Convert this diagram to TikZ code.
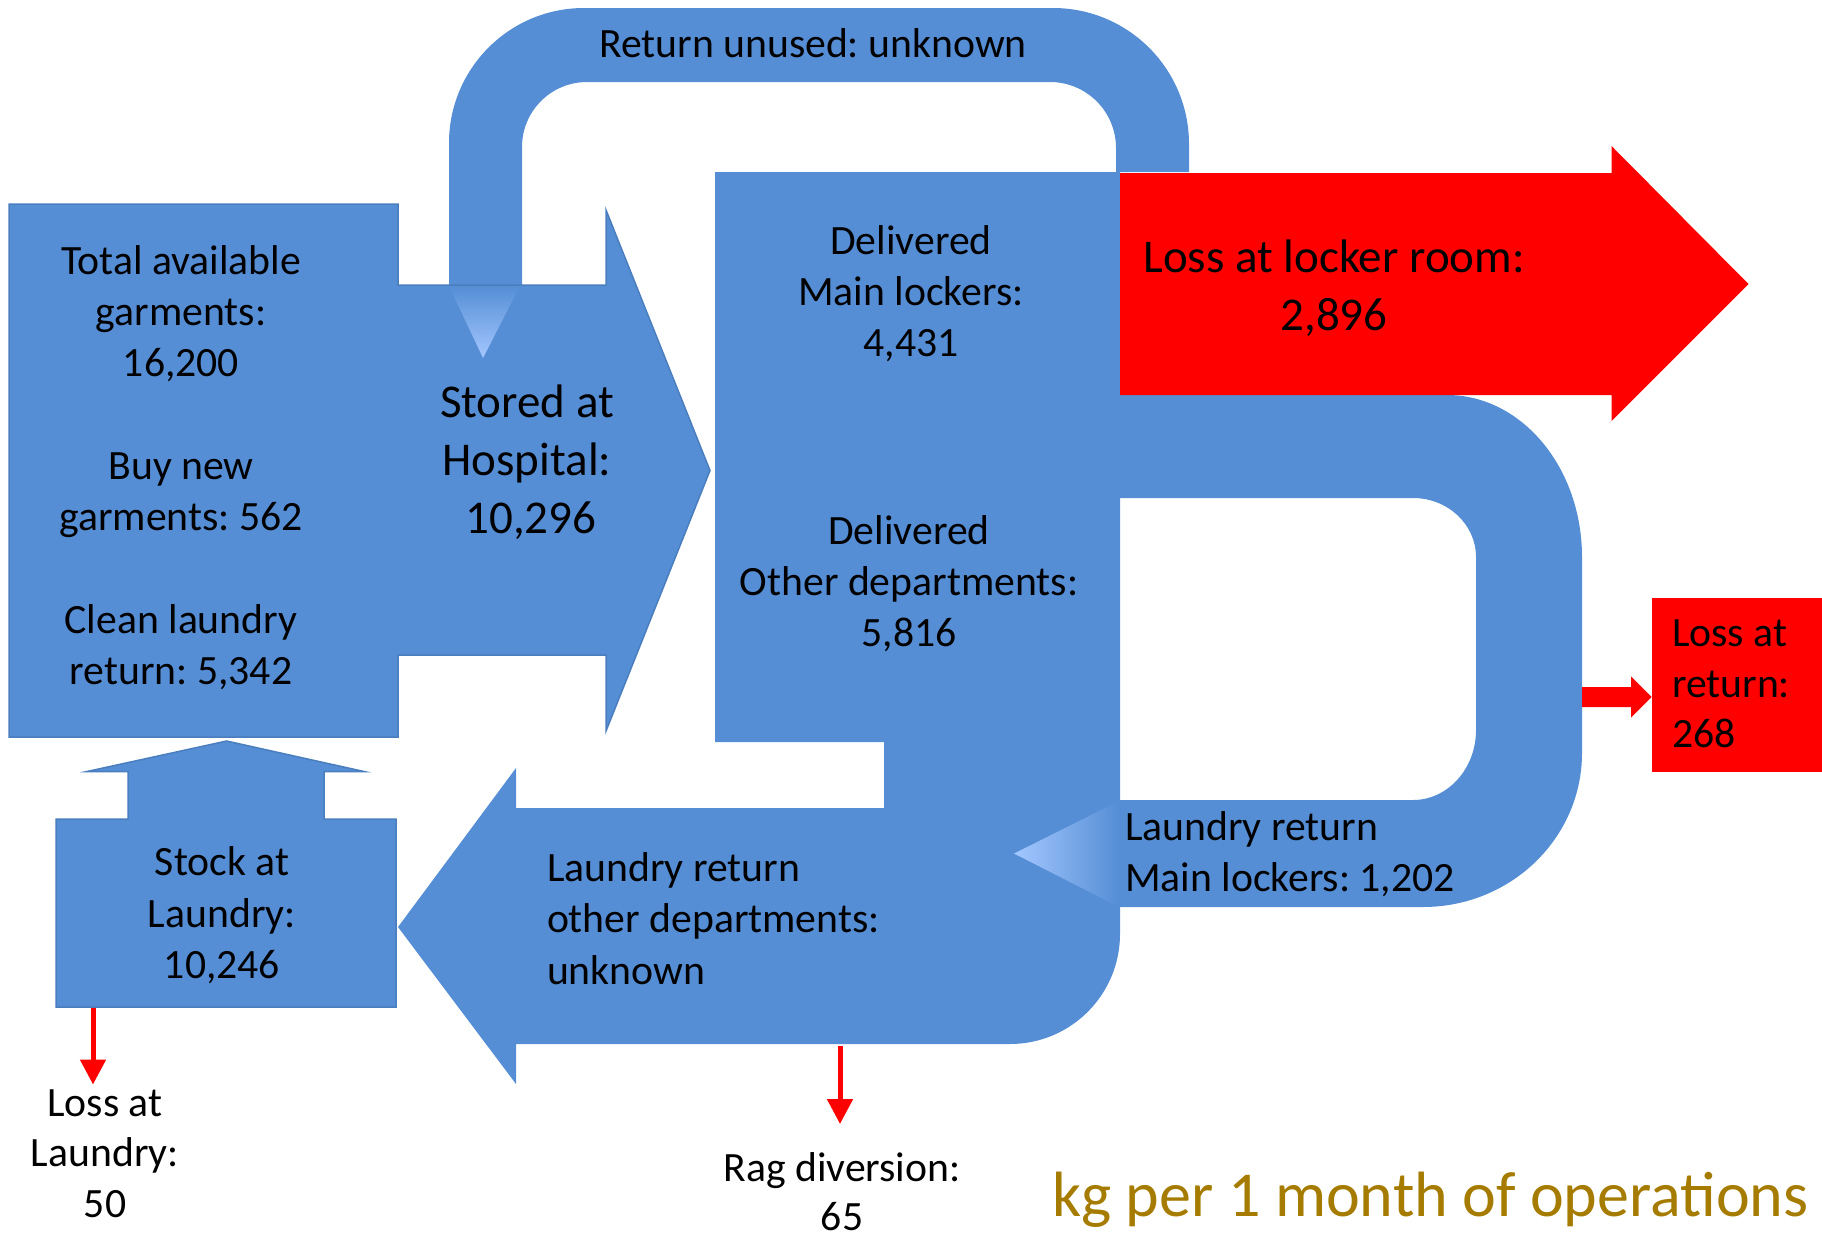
\documentclass[tikz,border=0pt]{standalone}
\usepackage{fontspec}
\setmainfont{Carlito}
\usetikzlibrary{arrows.meta}
\definecolor{flowblue}{RGB}{85,142,213}
\definecolor{flowedge}{RGB}{74,126,190}
\definecolor{flowlight}{RGB}{164,199,255}
\definecolor{lossred}{RGB}{255,0,0}
\definecolor{kgcol}{RGB}{166,124,0}
\newcommand\fnorm{\fontsize{41.7pt}{51.2pt}\selectfont}
\newcommand\fbig{\fontsize{47pt}{58.4pt}\selectfont}
\newcommand\txtlines[2]{\begin{tabular}[t]{@{}#1@{}}#2\end{tabular}}
\frenchspacing
\begin{document}
\begin{tikzpicture}[x=1pt,y=-1pt,
  flow/.style={fill=flowblue,draw=none},
  flowline/.style={fill=flowblue,draw=flowedge,line width=1.5pt,line join=miter},
  lossshape/.style={fill=lossred,draw=none},
  lbl/.style={inner sep=0pt,outer sep=0pt,font=\fnorm,anchor=base},
  lbll/.style={inner sep=0pt,outer sep=0pt,font=\fnorm,anchor=base west},
  thinloss/.style={draw=lossred,line width=5pt,-{Triangle[length=25pt,width=25pt]}}]
\useasboundingbox (0,0) rectangle (1822,1237);

% return unused arch
\path[flow] (449,285) -- (449,143) arc[start angle=180,end angle=270,radius=135]
  -- (1053,8) arc[start angle=270,end angle=360,radius=136]
  -- (1189,172) -- (1116,172) -- (1116,148) arc[start angle=0,end angle=-90,radius=66]
  -- (587,82) arc[start angle=270,end angle=180,radius=65] -- (522,285) -- cycle;

% total available box + stored arrow
\path[flowline] (9,204) -- (398,204) -- (398,285) -- (606,285) -- (606,210) -- (710,470.5)
  -- (606,731) -- (606,655) -- (398,655) -- (398,737) -- (9,737) -- cycle;

% gradient triangle of the return arch
\shade[top color=flowblue,bottom color=flowlight] (449,286) -- (520,286) -- (483,358) -- cycle;

% delivered box + laundry return other departments arrow
\path[flow] (715,172) -- (1120,172) -- (1120,934) arc[start angle=0,end angle=90,radius=110]
  -- (516,1044) -- (516,1084) -- (398,927) -- (516,768) -- (516,808) -- (884,808)
  -- (884,742) -- (715,742) -- cycle;

% main lockers return loop
\path[flow] (1118,395) -- (1447,395) arc[start angle=270,end angle=360,x radius=135,y radius=162]
  -- (1582,753) arc[start angle=0,end angle=90,x radius=159,y radius=154]
  -- (1118,907) -- (1118,800) -- (1413,800) arc[start angle=90,end angle=0,x radius=63,y radius=70]
  -- (1476,557) arc[start angle=0,end angle=-90,x radius=63,y radius=59]
  -- (1118,498) -- cycle;

% gradient triangle of the loop
\shade[left color=flowlight,right color=flowblue] (1119,801) -- (1014,853.5) -- (1119,907) -- cycle;

% loss at locker room arrow
\path[lossshape] (1120,173) -- (1611.5,173) -- (1611.5,146) -- (1748.5,284) -- (1611.5,421)
  -- (1611.5,395) -- (1120,395) -- cycle;

% loss at return
\path[lossshape] (1582,687) -- (1631,687) -- (1631,676.5) -- (1651.5,697) -- (1631,717.5)
  -- (1631,707) -- (1582,707) -- cycle;
\path[lossshape] (1651.5,597.6) rectangle (1822,771.6);

% stock at laundry with up arrow
\path[flowline] (56,1007) -- (56,819) -- (128,819) -- (128,771.5) -- (87,771.5) -- (226.6,741)
  -- (364,771.5) -- (324,771.5) -- (324,819) -- (396,819) -- (396,1007) -- cycle;

% thin loss arrows
\coordinate (stockout) at (93,1008);
\coordinate (laundryloss) at (93,1084.5);
\coordinate (ragout) at (840,1046);
\coordinate (ragloss) at (840,1124);
\draw[thinloss] (stockout) -- (laundryloss);
\draw[thinloss] (ragout) -- (ragloss);

% labels
\node[lbl] (avail) at (181,274) {\txtlines{c}{Total available\\garments:\\16,200}};
\node[lbl] (buy) at (181,479) {\txtlines{c}{Buy new\\garments: 562}};
\node[lbl] (clean) at (181,633) {\txtlines{c}{Clean laundry\\return: 5,342}};
\node[lbl,font=\fbig] (stored) at (527,417) {\txtlines{c}{Stored at\\Hospital:\\\hspace*{8pt}10,296}};
\node[lbl] (unused) at (813,57.3) {Return unused: unknown};
\node[lbl] (delmain) at (911,254) {\txtlines{c}{Delivered\\Main lockers:\\4,431}};
\node[lbl] (delother) at (909,544) {\txtlines{c}{Delivered\\Other departments:\\5,816}};
\node[lbl,font=\fontsize{47pt}{57.2pt}\selectfont] (lockerloss) at (1334,272.8) {\txtlines{c}{Loss at locker room:\\2,896}};
\node[lbll,font=\fontsize{41.7pt}{50.7pt}\selectfont] (returnloss) at (1672,646.4) {\txtlines{l}{Loss at\\return:\\268}};
\node[lbll,font=\fontsize{41.7pt}{50.3pt}\selectfont] (retmain) at (1125,840.7) {\txtlines{l}{Laundry return\\Main lockers: 1,202}};
\node[lbll] (retother) at (547,881.7) {\txtlines{l}{Laundry return\\other departments:\\unknown}};
\node[lbl] (stock) at (222,875.8) {\txtlines{c}{Stock at\\Laundry:\\10,246}};
\node[lbl,font=\fontsize{41.7pt}{50.7pt}\selectfont] (lossl) at (105,1116) {\txtlines{c}{Loss at\\Laundry:\\50}};
\node[lbl,font=\fontsize{41.7pt}{49pt}\selectfont] (rag) at (842,1181) {\txtlines{c}{Rag diversion:\\65}};
\node[inner sep=0pt,anchor=base west,font=\fontsize{64pt}{76pt}\selectfont,text=kgcol] (kg) at (1052,1216) {kg per 1 month of operations};
\end{tikzpicture}
\end{document}
